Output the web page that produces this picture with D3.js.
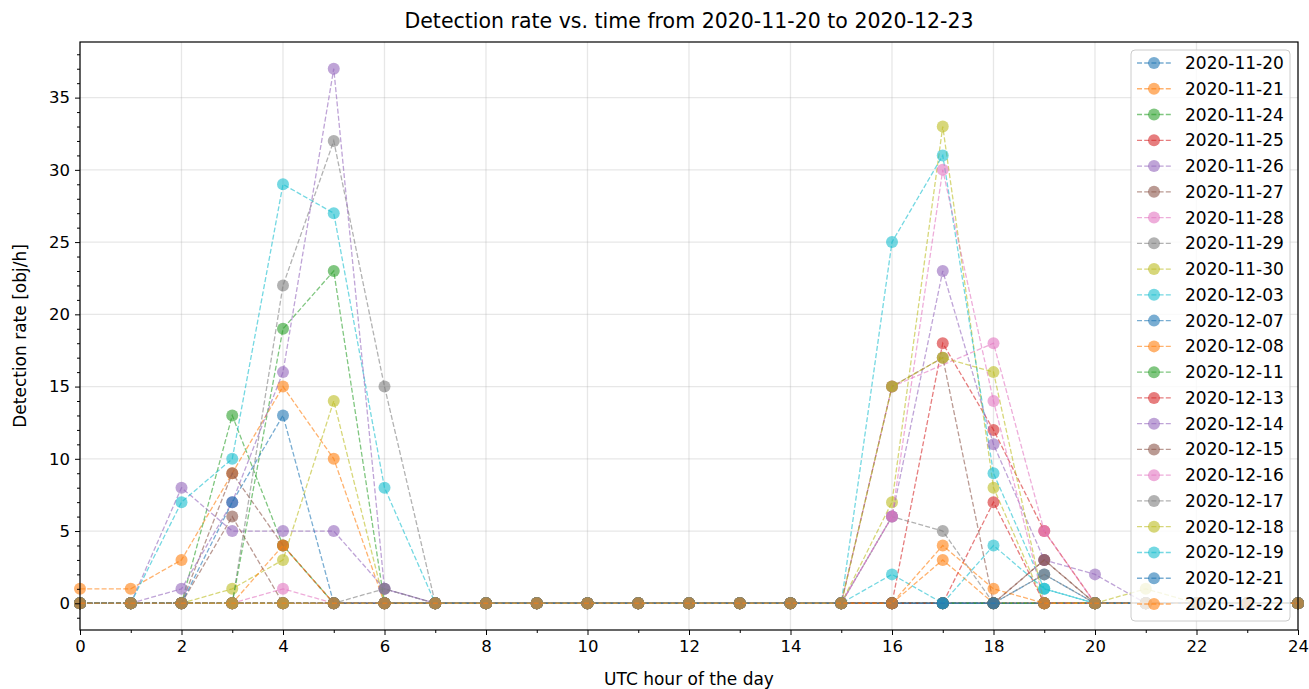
<!DOCTYPE html>
<html>
<head>
<meta charset="utf-8">
<script src="https://cdn.jsdelivr.net/npm/d3@7"></script>
<style>
  body { margin: 0; background: #fff; }
  svg text { font-family: "DejaVu Sans", sans-serif; fill: #000; }
</style>
</head>
<body>
<div id="chart"></div>
<script>
// hours of the day, 0..24
var hours = d3.range(0, 25)

var dates = ['2020-11-20', '2020-11-21', '2020-11-24', '2020-11-25', '2020-11-26', '2020-11-27',
  '2020-11-28', '2020-11-29', '2020-11-30', '2020-12-03', '2020-12-07', '2020-12-08',
  '2020-12-11', '2020-12-13', '2020-12-14', '2020-12-15', '2020-12-16', '2020-12-17',
  '2020-12-18', '2020-12-19', '2020-12-21', '2020-12-22']

// detection rate per hour, one array per date (null = no data)
var r1120 = [0,0,0,0,0,0,0,0,0,0,0,0,0,0,0,0,0,0,0,0,0,0,0,0,0]
var r1121 = [1,1,3,9,15,10,0,0,0,0,0,0,0,0,0,0,0,0,0,0,0,0,0,0,0]
var r1124 = [0,0,0,13,4,0,0,0,0,0,0,0,0,0,0,0,0,0,0,0,0,0,0,0,0]
var r1125 = [0,0,0,0,0,0,0,0,0,0,0,0,0,0,0,0,0,18,12,5,0,0,0,0,0]
var r1126 = [0,0,8,5,5,5,1,0,0,0,0,0,0,0,0,0,0,0,0,0,0,0,0,0,0]
var r1127 = [0,0,0,9,4,0,0,0,0,0,0,0,0,0,0,0,0,0,0,3,0,0,0,0,0]
var r1128 = [0,0,0,0,1,0,0,0,0,0,0,0,0,0,0,0,15,null,18,5,0,0,0,0,0]
var r1129 = [0,0,0,0,22,32,15,0,0,0,0,0,0,0,0,0,6,5,0,0,0,0,0,0,0]
var r1130 = [0,0,0,1,3,14,0,0,0,0,0,0,0,0,0,0,7,33,8,0,0,0,0,0,0]
var r1203 = [0,0,7,10,29,27,8,0,0,0,0,0,0,0,0,0,25,31,9,1,0,0,0,0,0]
var r1207 = [0,0,0,0,0,0,0,0,0,0,0,0,0,0,0,0,0,0,0,2,0,0,0,0,0]
var r1208 = [0,0,0,0,4,0,0,0,0,0,0,0,0,0,0,0,0,3,0,0,0,0,0,0,0]
var r1211 = [0,0,0,0,19,23,0,0,0,0,0,0,0,0,0,0,0,0,0,0,0,0,0,0,0]
var r1213 = [0,0,0,0,0,0,0,0,0,0,0,0,0,0,0,0,0,0,7,0,0,0,0,0,0]
var r1214 = [0,0,1,7,16,37,1,0,0,0,0,0,0,0,0,0,6,23,11,3,2,0,0,0,0]
var r1215 = [0,0,0,6,0,0,0,0,0,0,0,0,0,0,0,0,15,17,0,3,0,0,0,0,0]
var r1216 = [0,0,0,0,0,0,0,0,0,0,0,0,0,0,0,0,6,30,14,0,0,0,0,0,0]
var r1217 = [0,0,0,0,0,0,1,0,0,0,0,0,0,0,0,0,0,0,0,2,0,0,0,0,0]
var r1218 = [0,0,0,0,0,0,0,0,0,0,0,0,0,0,0,0,15,17,16,0,0,1,0,0,0]
var r1219 = [0,0,0,0,0,0,0,0,0,0,0,0,0,0,0,0,2,0,4,1,0,0,0,0,0]
var r1221 = [0,0,0,7,13,0,0,0,0,0,0,0,0,0,0,0,0,0,0,0,0,0,0,0,0]
var r1222 = [0,0,0,0,0,0,0,0,0,0,0,0,0,0,0,0,0,4,1,0,0,0,0,0,0]

var rates = [r1120, r1121, r1124, r1125, r1126, r1127, r1128, r1129, r1130, r1203, r1207,
  r1208, r1211, r1213, r1214, r1215, r1216, r1217, r1218, r1219, r1221, r1222]

var xTicks = d3.range(0, 25, 2)
var yTicks = d3.range(0, 36, 5)

var W = 1309, H = 689
var padL = 80, padR = 1298, padT = 42, padB = 630

var svg = d3.select('#chart').append('svg')
  .attr('width', W)
  .attr('height', H)

var x = d3.scaleLinear().domain([0, 24]).range([padL, padR])
var y = d3.scaleLinear().domain([-1.85, 38.85]).range([padB, padT])
var color = d3.scaleOrdinal(d3.schemeCategory10)

// grid
svg.append('g').selectAll('line').data(xTicks).enter().append('line')
  .attr('x1', function (d) { return x(d) }).attr('x2', function (d) { return x(d) })
  .attr('y1', padT).attr('y2', padB)
  .style('stroke', '#b0b0b0').style('stroke-opacity', 0.3).style('stroke-width', 1.3)
svg.append('g').selectAll('line').data(yTicks).enter().append('line')
  .attr('y1', function (d) { return y(d) }).attr('y2', function (d) { return y(d) })
  .attr('x1', padL).attr('x2', padR)
  .style('stroke', '#b0b0b0').style('stroke-opacity', 0.3).style('stroke-width', 1.3)

// series
var line = d3.line()
  .x(function (d) { return x(d.h) })
  .y(function (d) { return y(d.v) })

var plot = svg.append('g')
rates.forEach(function (vals, i) {
  var pts = hours.map(function (h, j) { return {h: h, v: vals[j]} })
    .filter(function (d) { return d.v !== null })
  var g = plot.append('g')
  g.append('path')
    .attr('d', line(pts))
    .style('fill', 'none')
    .style('stroke', color(i))
    .style('stroke-opacity', 0.6)
    .style('stroke-width', 1.3)
    .style('stroke-dasharray', '5,2.2')
  g.selectAll('circle').data(pts).enter().append('circle')
    .attr('cx', function (d) { return x(d.h) })
    .attr('cy', function (d) { return y(d.v) })
    .attr('r', 6)
    .style('fill', color(i))
    .style('fill-opacity', 0.6)
})

// axes
svg.append('g').attr('transform', 'translate(0,' + padB + ')')
  .call(d3.axisBottom(x).tickValues(xTicks).tickFormat(d3.format('d')).tickSize(5).tickPadding(5))
svg.append('g').attr('transform', 'translate(0,' + padB + ')')
  .call(d3.axisBottom(x).tickValues(d3.range(1, 24, 2)).tickFormat('').tickSize(3))
svg.append('g').attr('transform', 'translate(' + padL + ',0)')
  .call(d3.axisLeft(y).tickValues(yTicks).tickFormat(d3.format('d')).tickSize(5).tickPadding(5))
svg.append('g').attr('transform', 'translate(' + padL + ',0)')
  .call(d3.axisLeft(y).tickValues(d3.range(-1, 39).filter(function (v) { return v % 5 !== 0 })).tickFormat('').tickSize(3))

svg.selectAll('.domain').remove()
svg.selectAll('.tick line').style('stroke', '#000').style('stroke-width', 1)
svg.selectAll('.tick text').style('font-size', '16.5px').style('font-family', '"DejaVu Sans", sans-serif')

svg.append('rect')
  .attr('x', padL).attr('y', padT)
  .attr('width', padR - padL).attr('height', padB - padT)
  .style('fill', 'none').style('stroke', '#000').style('stroke-width', 1.2)

// titles
svg.append('text')
  .attr('x', (padL + padR) / 2).attr('y', 28)
  .attr('text-anchor', 'middle')
  .style('font-size', '20.5px')
  .text('Detection rate vs. time from 2020-11-20 to 2020-12-23')
svg.append('text')
  .attr('x', (padL + padR) / 2).attr('y', 685)
  .attr('text-anchor', 'middle')
  .style('font-size', '17px')
  .text('UTC hour of the day')
svg.append('text')
  .attr('transform', 'translate(26,' + ((padT + padB) / 2) + ') rotate(-90)')
  .attr('text-anchor', 'middle')
  .style('font-size', '17px')
  .text('Detection rate [obj/h]')

// legend
var lg = svg.append('g')
lg.append('rect')
  .attr('x', 1131).attr('y', 50).attr('width', 159).attr('height', 571)
  .attr('rx', 4)
  .style('fill', '#fff').style('fill-opacity', 0.8)
  .style('stroke', '#ccc').style('stroke-width', 1)

var rowY = d3.scaleLinear().domain([0, dates.length - 1]).range([63, 604])
dates.forEach(function (d, i) {
  var ry = rowY(i)
  lg.append('line')
    .attr('x1', 1137).attr('x2', 1172).attr('y1', ry).attr('y2', ry)
    .style('stroke', color(i)).style('stroke-opacity', 0.6)
    .style('stroke-width', 1.3).style('stroke-dasharray', '5,2.2')
  lg.append('circle')
    .attr('cx', 1154).attr('cy', ry).attr('r', 6)
    .style('fill', color(i)).style('fill-opacity', 0.6)
  lg.append('text')
    .attr('x', 1185).attr('y', ry + 6)
    .style('font-size', '17px')
    .text(d)
})
</script>
</body>
</html>
